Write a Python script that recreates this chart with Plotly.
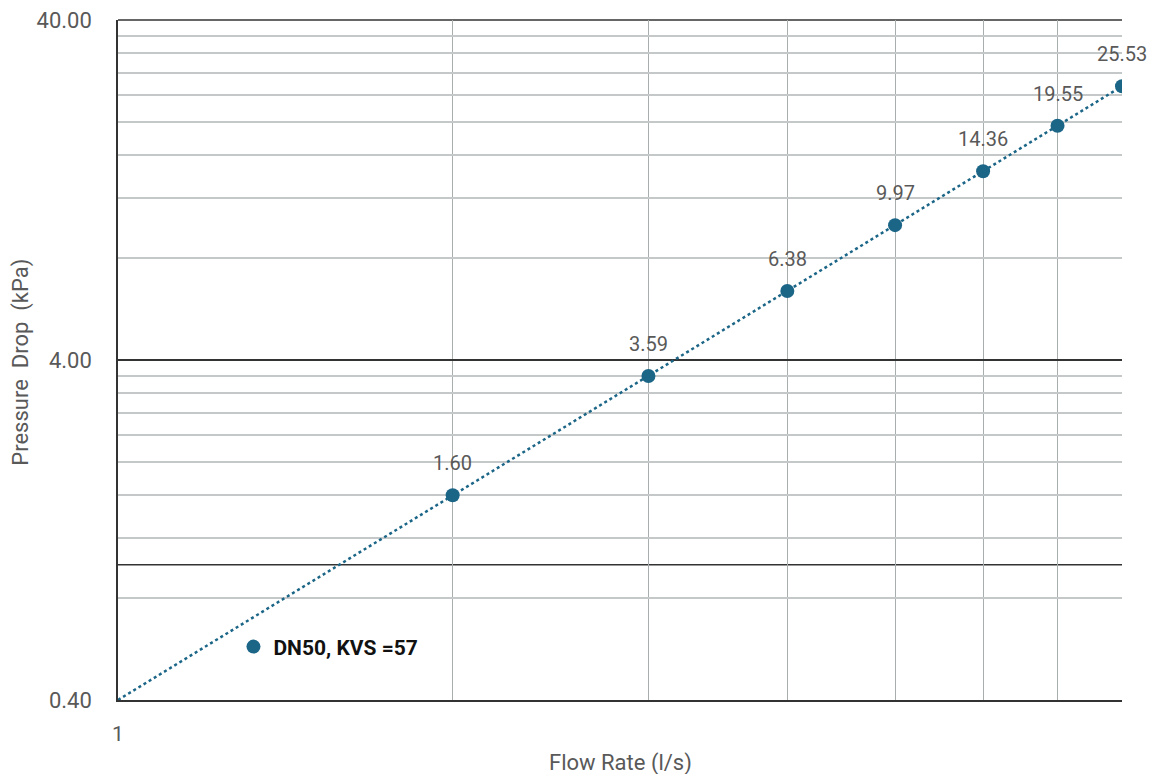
import numpy as np
import plotly.graph_objects as go

flow = [2, 3, 4, 5, 6, 7, 8]
dp = [1.60, 3.59, 6.38, 9.97, 14.36, 19.55, 25.53]
dp_labels = ["1.60", "3.59", "6.38", "9.97", "14.36", "19.55", "25.53"]
trend_x = [1, 8]
trend_y = [0.40, 25.53]

y_major = [0.4, 4, 40]
y_major_text = ["0.40", "4.00", "40.00"]
y_minor = [0.8, 1.2, 1.6, 2.0, 2.4, 2.8, 3.2, 3.6, 8, 12, 16, 20, 24, 28, 32, 36]
x_major = [1]
x_major_text = ["1"]
x_minor = [2, 3, 4, 5, 6, 7, 8]
axis_cross_y = 1

color = "#1B6587"
gray_text = "#595959"
font_family = "Roboto, Liberation Sans, Arial, sans-serif"

fig = go.Figure()
fig.add_trace(go.Scatter(
    x=trend_x, y=trend_y, mode="lines",
    line=dict(color=color, width=2.5, dash="dot"),
    showlegend=False, hoverinfo="skip",
))
fig.add_trace(go.Scatter(
    x=flow, y=dp, mode="markers",
    marker=dict(color=color, size=14),
    name="DN50, KVS =57",
))

for xv, yv, t in zip(flow, dp, dp_labels):
    fig.add_annotation(
        x=np.log10(xv), y=np.log10(yv), text=t, showarrow=False,
        yshift=32, font=dict(size=20, color=gray_text, family=font_family),
    )

fig.add_annotation(xref="paper", yref="paper", x=0.5, y=-0.092,
                   text="Flow Rate (l/s)", showarrow=False, yanchor="middle",
                   font=dict(size=22, color=gray_text, family=font_family))
fig.add_annotation(xref="paper", yref="paper", x=-0.0966, y=0.496,
                   text="Pressure  Drop  (kPa)", showarrow=False, textangle=-90,
                   xanchor="center", yanchor="middle",
                   font=dict(size=22, color=gray_text, family=font_family))

fig.add_shape(type="line", xref="paper", x0=0, x1=1, yref="y",
              y0=axis_cross_y, y1=axis_cross_y,
              line=dict(color="#333333", width=1.5), layer="below")
fig.add_shape(type="line", xref="paper", x0=0, x1=1, yref="paper",
              y0=1, y1=1, line=dict(color="#333333", width=1.5), layer="below")

fig.update_layout(
    width=1140, height=766,
    margin=dict(l=110, r=26, t=12, b=74, autoexpand=False),
    plot_bgcolor="white", paper_bgcolor="white",
    font=dict(family=font_family, color=gray_text, size=20),
    showlegend=True,
    legend=dict(x=0.115, y=0.078, xanchor="left", yanchor="middle",
                bgcolor="rgba(0,0,0,0)", itemwidth=30,
                font=dict(size=21, color="#111111", family=font_family, weight="bold")),
    xaxis=dict(
        type="log", range=[np.log10(1), np.log10(8)], automargin=False,
        tickmode="array", tickvals=x_major, ticktext=x_major_text,
        tickfont=dict(size=21), ticklabeloverflow="allow",
        showgrid=True, gridcolor="#333333", gridwidth=1.5,
        showline=True, linecolor="#333333", linewidth=1.5,
        ticks="", ticklabelstandoff=14,
        minor=dict(tickmode="array", tickvals=x_minor, showgrid=True,
                   gridcolor="#A8ADAD", gridwidth=1, ticks=""),
        zeroline=False,
    ),
    yaxis=dict(
        type="log", range=[np.log10(0.4), np.log10(40)], automargin=False,
        tickmode="array", tickvals=y_major, ticktext=y_major_text,
        tickfont=dict(size=22), ticklabeloverflow="allow",
        showgrid=True, gridcolor="#333333", gridwidth=1.5,
        showline=True, linecolor="#333333", linewidth=1.5,
        ticks="", ticklabelstandoff=20,
        minor=dict(tickmode="array", tickvals=y_minor, showgrid=True,
                   gridcolor="#C4C8C8", gridwidth=1.5, ticks=""),
        zeroline=False,
    ),
)

fig.write_html("out.html")
